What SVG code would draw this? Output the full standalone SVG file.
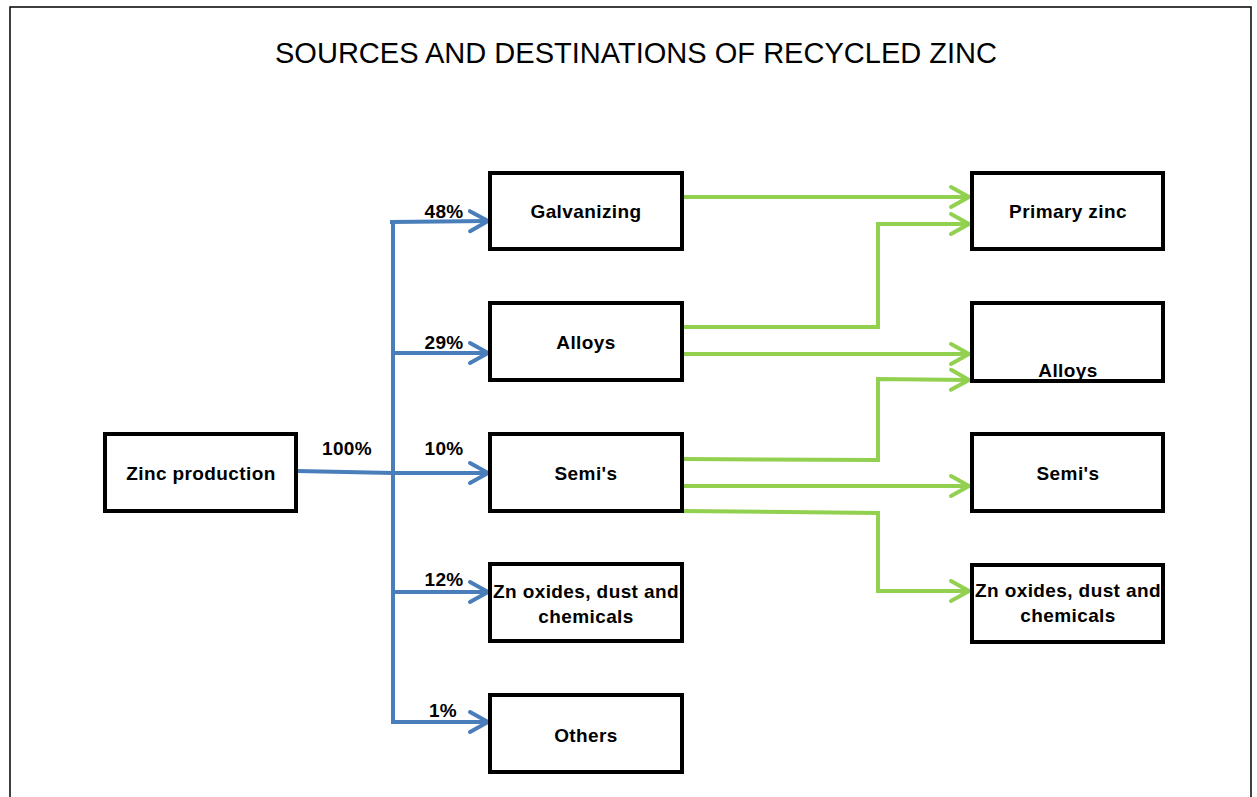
<svg xmlns="http://www.w3.org/2000/svg" width="1257" height="797" viewBox="0 0 1257 797">
<style>
.box{fill:#fff;stroke:#000;stroke-width:4}
.lbl{font-family:"Liberation Sans",Arial,sans-serif;font-weight:bold;font-size:19px;letter-spacing:0.4px;fill:#000;text-anchor:middle}
.pct{font-family:"Liberation Sans",Arial,sans-serif;font-weight:bold;font-size:19px;letter-spacing:0.3px;fill:#000;text-anchor:middle}
.blue{fill:none;stroke:#4a7ebb;stroke-width:4}
.green{fill:none;stroke:#92d050;stroke-width:4}
</style>
<defs>
<marker id="ab" viewBox="-24 -14 28 28" markerWidth="28" markerHeight="28" refX="0" refY="0" markerUnits="userSpaceOnUse" orient="auto">
<path d="M-18,-10 L0,0 L-18,10" fill="none" stroke="#4a7ebb" stroke-width="4" stroke-linecap="round" stroke-linejoin="round"/>
</marker>
<marker id="ag" viewBox="-24 -14 28 28" markerWidth="28" markerHeight="28" refX="0" refY="0" markerUnits="userSpaceOnUse" orient="auto">
<path d="M-18,-10 L0,0 L-18,10" fill="none" stroke="#92d050" stroke-width="4" stroke-linecap="round" stroke-linejoin="round"/>
</marker>
</defs>
<rect x="0" y="0" width="1257" height="797" fill="#fff"/>
<rect x="10" y="7" width="1241" height="800" fill="none" stroke="#000" stroke-width="1.5"/>
<text x="636" y="63" font-family="Liberation Sans,Arial,sans-serif" font-size="29.5" text-anchor="middle" textLength="722" lengthAdjust="spacingAndGlyphs" fill="#000">SOURCES AND DESTINATIONS OF RECYCLED ZINC</text>

<g id="connectors">
<polyline class="blue" points="297,471 393,473 488,473" marker-end="url(#ab)"/>
<polyline class="blue" points="393,222 393,722"/>
<polyline class="blue" points="390,222 488,221" marker-end="url(#ab)"/>
<polyline class="blue" points="393,353 488,353" marker-end="url(#ab)"/>
<polyline class="blue" points="393,592 488,592" marker-end="url(#ab)"/>
<polyline class="blue" points="391,722 488,722" marker-end="url(#ab)"/>
<text class="pct" x="347" y="455">100%</text>
<text class="pct" x="444" y="218">48%</text>
<text class="pct" x="444" y="349">29%</text>
<text class="pct" x="444" y="455">10%</text>
<text class="pct" x="444" y="586">12%</text>
<text class="pct" x="443" y="717">1%</text>

<polyline class="green" points="682,197 969,197" marker-end="url(#ag)"/>
<polyline class="green" points="682,327 878,327 878,224 969,224" marker-end="url(#ag)"/>
<polyline class="green" points="682,354 969,354" marker-end="url(#ag)"/>
<polyline class="green" points="682,459 878,460 878,379 969,380" marker-end="url(#ag)"/>
<polyline class="green" points="682,486 969,486" marker-end="url(#ag)"/>
<polyline class="green" points="682,511 878,513 878,591 969,591" marker-end="url(#ag)"/>
</g>

<g id="zinc-production"><rect class="box" x="105" y="434" width="191" height="77"/><text class="lbl" x="201" y="480">Zinc production</text></g>
<g id="galvanizing"><rect class="box" x="490" y="173" width="192" height="76"/><text class="lbl" x="586" y="218">Galvanizing</text></g>
<g id="alloys-src"><rect class="box" x="490" y="303" width="192" height="77"/><text class="lbl" x="586" y="349">Alloys</text></g>
<g id="semis-src"><rect class="box" x="490" y="434" width="192" height="77"/><text class="lbl" x="586" y="480">Semi's</text></g>
<g id="znox-src"><rect class="box" x="490" y="564" width="192" height="77"/><text class="lbl" x="586" y="598">Zn oxides, dust and</text><text class="lbl" x="586" y="623">chemicals</text></g>
<g id="others"><rect class="box" x="490" y="695" width="192" height="77"/><text class="lbl" x="586" y="742">Others</text></g>

<g id="primary-zinc"><rect class="box" x="972" y="173" width="191" height="76"/><text class="lbl" x="1068" y="218">Primary zinc</text></g>
<g id="alloys-dst"><rect class="box" x="972" y="303" width="191" height="78"/><text class="lbl" x="1068" y="377">Alloys</text></g>
<g id="semis-dst"><rect class="box" x="972" y="434" width="191" height="77"/><text class="lbl" x="1068" y="480">Semi's</text></g>
<g id="znox-dst"><rect class="box" x="972" y="565" width="191" height="77"/><text class="lbl" x="1068" y="597">Zn oxides, dust and</text><text class="lbl" x="1068" y="622">chemicals</text></g>
</svg>
